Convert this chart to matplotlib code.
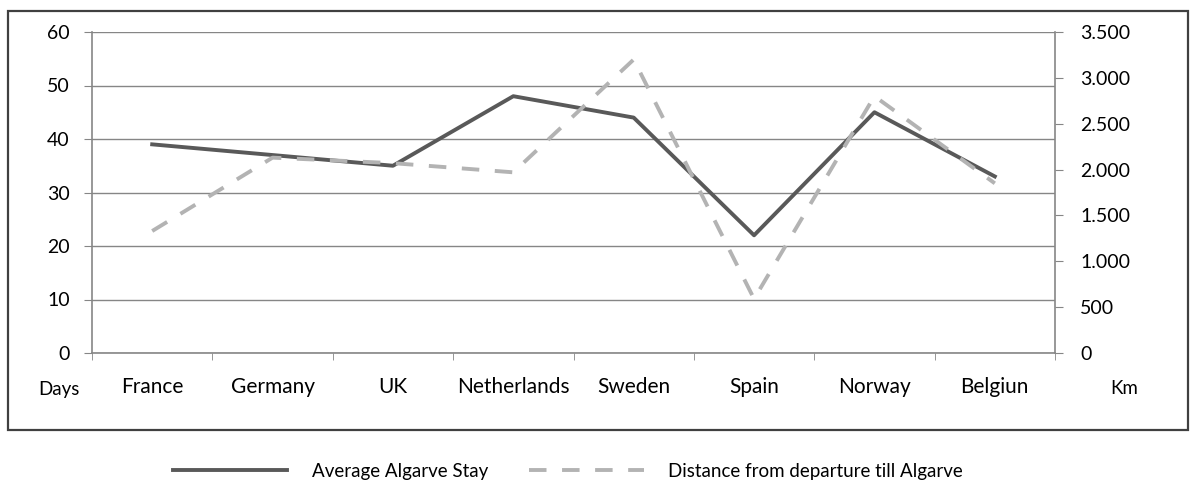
import matplotlib
matplotlib.use('Agg')
import matplotlib.pyplot as plt
from matplotlib.lines import Line2D
from matplotlib.patches import Rectangle
from matplotlib.ticker import FuncFormatter, FixedLocator

countries = ['France', 'Germany', 'UK', 'Netherlands', 'Sweden', 'Spain', 'Norway', 'Belgiun']
stay_days = [39, 37, 35, 48, 44, 22, 45, 33]
distance_km = [1330, 2130, 2070, 1970, 3200, 590, 2800, 1850]

plt.rcParams['font.family'] = ['Lato', 'DejaVu Sans']

W, H = 1191, 480
fig = plt.figure(figsize=(W/100, H/100), dpi=100)
ax = fig.add_axes([92/W, 1-353/H, (1055-92)/W, (353-32)/H])
ax2 = ax.twinx()

solid_col = '#595959'
dash_col = '#b3b3b3'
dash_style = (4.5, 4)

x = list(range(len(countries)))
ax.plot(x, stay_days, color=solid_col, lw=2.8, zorder=3)
ax2.plot(x, distance_km, color=dash_col, lw=2.8, dashes=dash_style, zorder=3)

ax.set_xlim(-0.5, len(countries) - 0.5)
ax.set_ylim(0, 60)
ax2.set_ylim(0, 3500)
ax.set_yticks(range(0, 61, 10))
ax2.set_yticks(range(0, 3501, 500))
ax2.yaxis.set_major_formatter(FuncFormatter(lambda v, p: f'{int(v):,}'.replace(',', '.')))

ax.set_xticks(x)
ax.set_xticklabels(countries)
ax.xaxis.set_minor_locator(FixedLocator([i - 0.5 for i in range(len(countries) + 1)]))
ax.tick_params(axis='x', which='major', length=0, pad=17, labelsize=15)
ax.tick_params(axis='x', which='minor', length=5, color='#868686', direction='out')
ax.tick_params(axis='y', length=6, color='#868686', pad=10, labelsize=14)
ax2.tick_params(axis='y', length=6, color='#868686', pad=12, labelsize=14)

ax.grid(axis='y', color='#868686', lw=1)
ax.set_axisbelow(True)
for a in (ax, ax2):
    for s in a.spines.values():
        s.set_color('#868686')
        s.set_linewidth(1.2)
    a.spines['top'].set_visible(False)
ax.spines['right'].set_visible(False)
ax2.spines['left'].set_visible(False)
ax2.spines['bottom'].set_visible(False)

fig.text(59/W, 1-389/H, 'Days', ha='center', va='center', fontsize=13.5)
fig.text(1124/W, 1-389/H, 'Km', ha='center', va='center', fontsize=13.5)

# outer chart frame
fig.patches.append(Rectangle((8/W, 1-430/H), 1180/W, 419/H, transform=fig.transFigure,
                             fill=False, edgecolor='#404040', lw=1.6))

handles = [Line2D([], [], color=solid_col, lw=2.8),
           Line2D([], [], color=dash_col, lw=2.8, dashes=dash_style)]
fig.legend(handles, ['Average Algarve Stay', 'Distance from departure till Algarve'],
           loc='center left', bbox_to_anchor=(173/W, 1-471/H), ncol=2, frameon=False,
           fontsize=13.5, handlelength=6.1, columnspacing=2.2, handletextpad=1.3,
           borderpad=0, borderaxespad=0)

fig.savefig('out.png', dpi=100)
